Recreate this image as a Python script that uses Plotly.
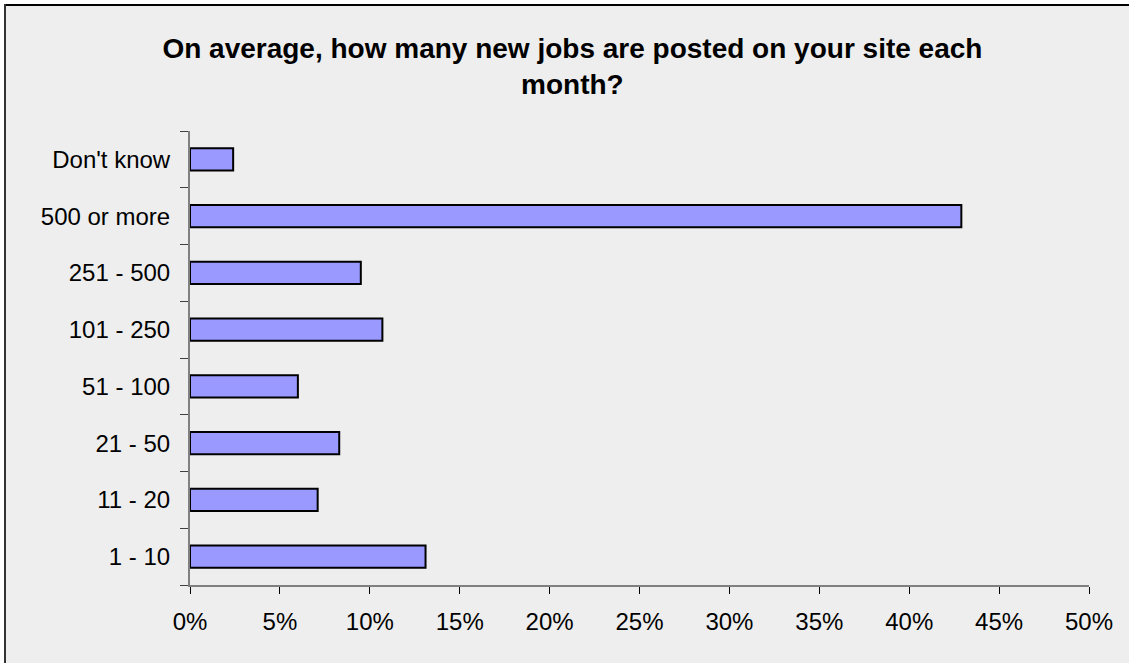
import plotly.graph_objects as go

# Survey answers, bottom to top as they appear on the category axis
categories = ["1 - 10", "11 - 20", "21 - 50", "51 - 100", "101 - 250",
              "251 - 500", "500 or more", "Don't know"]
shares = [13.1, 7.1, 8.3, 6.0, 10.7, 9.5, 42.9, 2.4]  # percent of respondents

x_ticks = [0, 5, 10, 15, 20, 25, 30, 35, 40, 45, 50]
x_tick_labels = [f"{v}%" for v in x_ticks]

title_text = "On average, how many new jobs are posted on your site each<br>month?"

W, H = 1129, 663
ML, MR, MT, MB = 190, 40, 131, 78
PW, PH = W - ML - MR, H - MT - MB

FONT = "Arial, Liberation Sans, Helvetica, sans-serif"
BG = "#EEEEEE"


def px_x(px):
    """pixel column -> paper x"""
    return (px - ML) / PW


def px_y(py):
    """pixel row -> paper y"""
    return (H - MB - py) / PH


fig = go.Figure(
    go.Bar(
        y=categories,
        x=shares,
        orientation="h",
        marker=dict(color="#9999FF", line=dict(color="#000000", width=2)),
        hoverinfo="x+y",
    )
)

# white margin and frame lines along the top and left edges
shapes = [
    dict(type="rect", xref="paper", yref="paper",
         x0=px_x(-10), x1=px_x(W + 10), y0=px_y(4), y1=px_y(-10),
         fillcolor="#FFFFFF", line=dict(width=0), layer="below"),
    dict(type="rect", xref="paper", yref="paper",
         x0=px_x(-10), x1=px_x(4), y0=px_y(H + 10), y1=px_y(-10),
         fillcolor="#FFFFFF", line=dict(width=0), layer="below"),
    dict(type="line", xref="paper", yref="paper",
         x0=px_x(4), x1=px_x(W + 10), y0=px_y(5), y1=px_y(5),
         line=dict(color="#000000", width=2)),
    dict(type="line", xref="paper", yref="paper",
         x0=px_x(5), x1=px_x(5), y0=px_y(4), y1=px_y(H + 10),
         line=dict(color="#333333", width=2)),
]

fig.update_layout(
    width=W,
    height=H,
    margin=dict(l=ML, r=MR, t=MT, b=MB, pad=0),
    paper_bgcolor=BG,
    plot_bgcolor=BG,
    bargap=0.61,
    showlegend=False,
    shapes=shapes,
    font=dict(family=FONT, color="#000000", size=24),
    title=dict(
        text=title_text,
        x=0.507,
        xanchor="center",
        xref="container",
        y=1 - 58 / H,
        yanchor="top",
        yref="container",
        font=dict(family=FONT, size=28, color="#000000", weight="bold"),
    ),
    xaxis=dict(
        range=[0, 50],
        tickvals=x_ticks,
        ticktext=x_tick_labels,
        ticks="outside",
        ticklen=7,
        tickwidth=1,
        tickcolor="#000000",
        showline=True,
        linecolor="#808080",
        linewidth=2,
        showgrid=False,
        zeroline=False,
        tickfont=dict(family=FONT, size=24, color="#000000"),
        ticklabelstandoff=7,
        fixedrange=True,
    ),
    yaxis=dict(
        type="category",
        categoryorder="array",
        categoryarray=categories,
        range=[-0.5, len(categories) - 0.5],
        tickson="boundaries",
        ticks="outside",
        ticklen=8,
        tickwidth=1,
        tickcolor="#404040",
        showline=True,
        linecolor="#808080",
        linewidth=2,
        showgrid=False,
        zeroline=False,
        tickfont=dict(family=FONT, size=24, color="#000000"),
        ticklabelstandoff=13,
        fixedrange=True,
    ),
)

fig.write_html("out.html", config={"displayModeBar": False})
